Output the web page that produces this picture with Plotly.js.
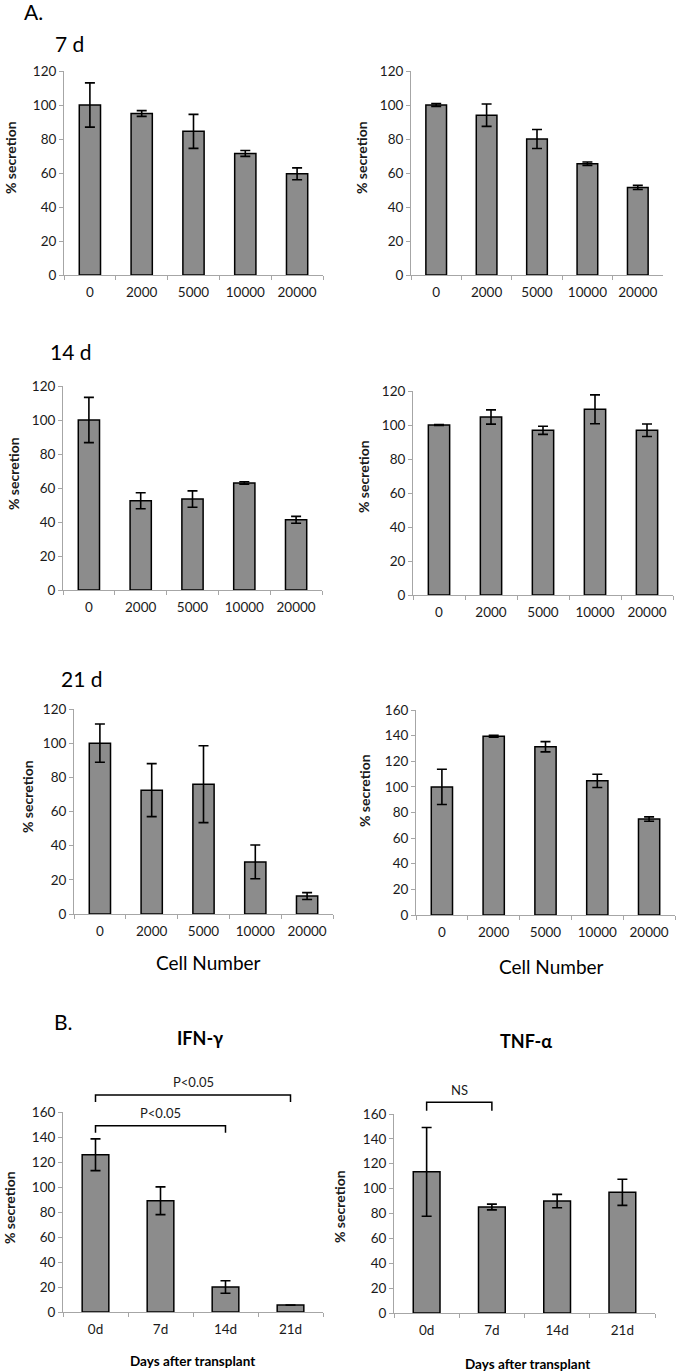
<!DOCTYPE html>
<html><head><meta charset="utf-8">
<script src="https://cdn.plot.ly/plotly-3.0.1.min.js"></script>
<style>html,body{margin:0;padding:0;background:#fff}</style>
</head><body><div id="chart" style="width:685px;height:1371px"></div>
<script>
// ---------- data ----------
const cellNumbers = ['0', '2000', '5000', '10000', '20000'];
const days = ['0d', '7d', '14d', '21d'];

const d7Left = [100, 95, 84.5, 71.5, 59.5];
const d7LeftErr = [13, 1.7, 10, 1.7, 3.5];
const d7Right = [100, 94, 80, 65.5, 51.5];
const d7RightErr = [0.8, 6.6, 5.6, 1, 1.2];
const d14Left = [100, 52.5, 53.5, 63, 41.3];
const d14LeftErr = [13.3, 4.7, 4.8, 0.7, 2];
const d14Right = [100, 104.7, 96.9, 109.2, 96.9];
const d14RightErr = [0.3, 4.2, 2.4, 8.5, 3.7];
const d21Left = [100, 72.5, 76, 30.5, 10.5];
const d21LeftErr = [11.2, 15.5, 22.5, 9.9, 2];
const d21Right = [100, 139.5, 131.3, 104.7, 74.9];
const d21RightErr = [13.8, 0.8, 4, 5.2, 1.7];
const ifnGamma = [125.8, 89, 20, 5.5];
const ifnGammaErr = [12.7, 11.1, 5, 0];
const tnfAlpha = [113.5, 85.2, 90, 97];
const tnfAlphaErr = [35.7, 2.3, 5.4, 10.5];

// significance brackets: [fromIndex, toIndex, barLevel, legEnd, labelLevel, label]
const ifnBrackets = [[0, 3, 173.6, 168, 184, 'P<0.05'], [0, 2, 149, 143.5, 159.2, 'P<0.05']];
const tnfBrackets = [[0, 1, 169.4, 162.6, 178.9, 'NS']];

// ---------- layout helpers ----------
const W = 685, H = 1371;
const FONT = 'Lato, "Open Sans", sans-serif';
const px = x => x / W;
const py = y => 1 - y / H;

const panels = [
  {cats: cellNumbers, vals: d7Left, errs: d7LeftErr, box: [64, 323, 71, 275], ymax: 120, yt: [11, 158]},
  {cats: cellNumbers, vals: d7Right, errs: d7RightErr, box: [411, 663, 71, 275], ymax: 120, yt: [362, 158]},
  {cats: cellNumbers, vals: d14Left, errs: d14LeftErr, box: [63, 322, 386, 590], ymax: 120, yt: [13, 474]},
  {cats: cellNumbers, vals: d14Right, errs: d14RightErr, box: [413, 673, 391, 595], ymax: 120, yt: [363, 477]},
  {cats: cellNumbers, vals: d21Left, errs: d21LeftErr, box: [74, 333, 709, 914], ymax: 120, yt: [27, 797]},
  {cats: cellNumbers, vals: d21Right, errs: d21RightErr, box: [416, 675, 710, 915], ymax: 160, yt: [364, 791]},
  {cats: days, vals: ifnGamma, errs: ifnGammaErr, box: [63, 323, 1112, 1312], ymax: 160, yt: [9, 1208], brackets: ifnBrackets},
  {cats: days, vals: tnfAlpha, errs: tnfAlphaErr, box: [394, 655, 1114, 1313], ymax: 160, yt: [339, 1207], brackets: tnfBrackets}
];

const data = [];
const layout = {
  width: W, height: H,
  margin: {l: 0, r: 0, t: 0, b: 0},
  paper_bgcolor: '#fff', plot_bgcolor: '#fff',
  showlegend: false,
  bargap: 0.59,
  font: {family: FONT, color: '#1a1a1a'},
  annotations: [], shapes: []
};

const axisColor = '#a6a6a6';

panels.forEach((p, k) => {
  const n = k + 1;
  const xa = 'x' + (n === 1 ? '' : n), ya = 'y' + (n === 1 ? '' : n);
  const [x0, x1, y0, y1] = p.box;
  data.push({
    type: 'bar', x: p.cats, y: p.vals, xaxis: xa, yaxis: ya,
    marker: {color: '#8c8c8c', line: {color: '#000', width: 1.5}},
    error_y: {type: 'data', array: p.errs, visible: true, color: '#000', thickness: 1.6, width: 5},
    hoverinfo: 'none'
  });
  layout['xaxis' + (n === 1 ? '' : n)] = {
    domain: [px(x0), px(x1)], anchor: ya, type: 'category',
    showline: true, linecolor: axisColor, linewidth: 1,
    ticks: 'outside', tickson: 'boundaries', ticklen: 4, tickcolor: axisColor, tickwidth: 1,
    ticklabelstandoff: 5,
    showgrid: false, zeroline: false, fixedrange: true,
    tickfont: {family: FONT, size: 13.5, color: '#1a1a1a'}
  };
  layout['yaxis' + (n === 1 ? '' : n)] = {
    domain: [py(y1), py(y0)], anchor: xa, range: [0, p.ymax], dtick: 20,
    showline: true, linecolor: axisColor, linewidth: 1,
    ticks: 'outside', ticklen: 4, tickcolor: axisColor, tickwidth: 1,
    showgrid: false, zeroline: false, fixedrange: true,
    tickfont: {family: FONT, size: 13.5, color: '#1a1a1a'}
  };
  layout.annotations.push({
    text: '<b>% secretion</b>', xref: 'paper', yref: 'paper',
    x: px(p.yt[0]), y: py(p.yt[1]), textangle: -90, showarrow: false,
    xanchor: 'center', yanchor: 'middle', font: {family: FONT, size: 14, color: '#1a1a1a'}
  });
  if (p.brackets) {
    const nc = p.cats.length;
    const cx = i => px(x0 + (i + 0.5) * (x1 - x0) / nc);
    const vy = v => py(y1 - v / p.ymax * (y1 - y0));
    p.brackets.forEach(b => {
      const [a, c, lev, leg, lab, txt] = b;
      layout.shapes.push({
        type: 'path', xref: 'paper', yref: 'paper',
        path: `M ${cx(a)},${vy(leg)} L ${cx(a)},${vy(lev)} L ${cx(c)},${vy(lev)} L ${cx(c)},${vy(leg)}`,
        line: {color: '#000', width: 1.5}
      });
      layout.annotations.push({
        text: txt, xref: 'paper', yref: 'paper', x: (cx(a) + cx(c)) / 2, y: vy(lab),
        showarrow: false, xanchor: 'center', yanchor: 'middle',
        font: {family: FONT, size: 13, color: '#1a1a1a'}
      });
    });
  }
});

function label(text, x, y, size, anchor) {
  layout.annotations.push({
    text: text, xref: 'paper', yref: 'paper', x: px(x), y: py(y), showarrow: false,
    xanchor: anchor || 'center', yanchor: 'middle', font: {family: FONT, size: size, color: '#000'}
  });
}
label('A.', 22, 11, 21, 'left');
label('7 d', 53, 43, 21, 'left');
label('14 d', 48, 352, 21, 'left');
label('21 d', 59, 679, 21, 'left');
label('Cell Number', 208, 962, 19);
label('Cell Number', 551, 966, 19);
label('B.', 52, 1021, 21, 'left');
label('<b>IFN-γ</b>', 200, 1038, 18);
label('<b>TNF-α</b>', 526, 1041, 18);
label('<b>Days after transplant</b>', 192, 1361, 13.5);
label('<b>Days after transplant</b>', 527, 1364, 13.5);

Plotly.newPlot('chart', data, layout, {staticPlot: true, displayModeBar: false});
</script>
</body></html>
